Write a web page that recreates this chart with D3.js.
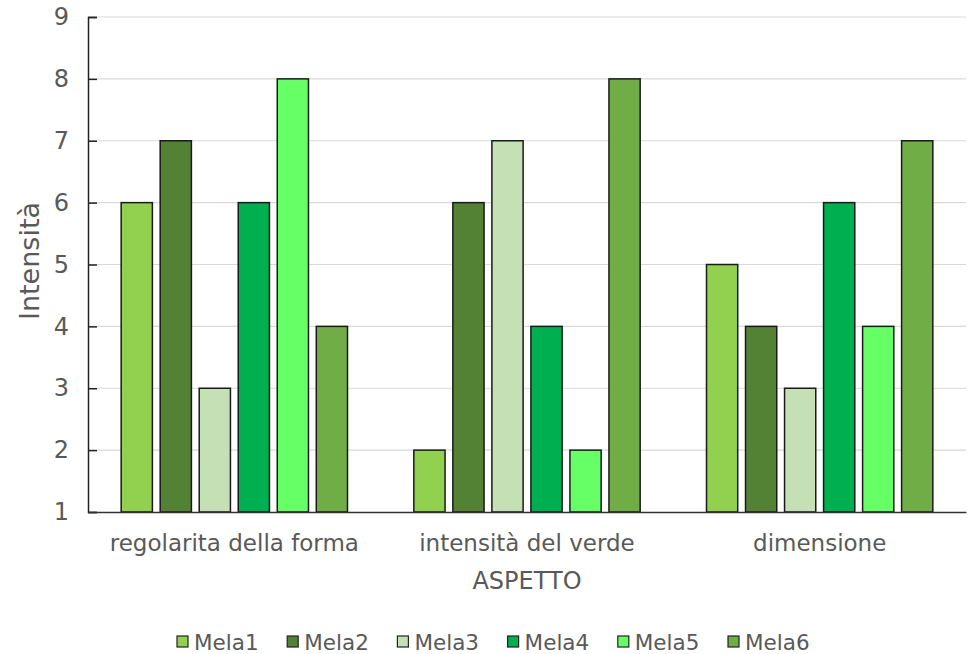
<!DOCTYPE html>
<html>
<head>
<meta charset="utf-8">
<script src="https://cdn.jsdelivr.net/npm/d3@7"></script>
<style>
  html, body { margin: 0; padding: 0; background: #fff; }
  svg text { font-family: "DejaVu Sans", Verdana, sans-serif; fill: #595959; }
</style>
</head>
<body>
<svg id="chart" width="972" height="654"></svg>
<script>
// Categories (x groups), series names and their values
const categories = ["regolarita della forma", "intensità del verde", "dimensione"];
const seriesNames = ["Mela1", "Mela2", "Mela3", "Mela4", "Mela5", "Mela6"];
const mela1 = [6, 2, 5];
const mela2 = [7, 6, 4];
const mela3 = [3, 7, 3];
const mela4 = [6, 4, 6];
const mela5 = [8, 2, 4];
const mela6 = [4, 8, 7];
const yTicks = [1, 2, 3, 4, 5, 6, 7, 8, 9];
const seriesColors = ["#92d050", "#548235", "#c5e0b4", "#00b050", "#66ff66", "#70ad47"];

const seriesValues = [mela1, mela2, mela3, mela4, mela5, mela6];

const svg = d3.select("#chart");
const margin = { left: 88, right: 6, top: 17, bottom: 142 };
const W = 972, H = 654;
const x0 = margin.left, x1 = W - margin.right;
const yTop = margin.top, yBot = H - margin.bottom;

const xGroup = d3.scaleBand().domain(categories).range([x0, x1]).paddingInner(0).paddingOuter(0);
const xSeries = d3.scaleBand().domain(seriesNames).range([0, xGroup.bandwidth()])
  .paddingInner(0.2).paddingOuter(0.85);
const y = d3.scaleLinear().domain([1, 9]).range([yBot, yTop]);

// Horizontal gridlines
svg.append("g")
  .selectAll("line")
  .data(yTicks.filter(t => t > 1))
  .join("line")
  .attr("x1", x0).attr("x2", x1)
  .attr("y1", d => y(d)).attr("y2", d => y(d))
  .attr("stroke", "#d9d9d9").attr("stroke-width", 1.2);

// Bars
const groups = svg.append("g")
  .selectAll("g")
  .data(categories)
  .join("g")
  .attr("transform", d => `translate(${xGroup(d)},0)`);

groups.selectAll("rect")
  .data((c, ci) => seriesNames.map((s, si) => ({ s, si, v: seriesValues[si][ci] })))
  .join("rect")
  .attr("x", d => xSeries(d.s))
  .attr("width", xSeries.bandwidth())
  .attr("y", d => y(d.v))
  .attr("height", d => y(1) - y(d.v))
  .attr("fill", d => seriesColors[d.si])
  .attr("stroke", "#1a1a1a")
  .attr("stroke-width", 1.5);

// Y axis with inward ticks
const yAxis = svg.append("g")
  .attr("transform", `translate(${x0},0)`)
  .call(d3.axisLeft(y).tickValues(yTicks).tickSize(-9).tickPadding(19).tickFormat(d3.format("d")));
yAxis.select(".domain").attr("stroke", "#222").attr("stroke-width", 1.5);
yAxis.selectAll(".tick line").attr("stroke", "#222").attr("stroke-width", 1.5);
yAxis.selectAll(".tick text").attr("font-size", 24).style("font-family", "DejaVu Sans").attr("fill", "#595959");

// X axis
const xAxis = svg.append("g")
  .attr("transform", `translate(0,${yBot})`)
  .call(d3.axisBottom(xGroup).tickSize(0).tickPadding(23));
xAxis.select(".domain").attr("stroke", "#333").attr("stroke-width", 1.5);
xAxis.selectAll(".tick text").attr("font-size", 23).style("font-family", "DejaVu Sans").attr("fill", "#595959");

// Axis titles
svg.append("text")
  .attr("x", (x0 + x1) / 2).attr("y", 589)
  .attr("text-anchor", "middle")
  .attr("font-size", 24)
  .text("ASPETTO");

svg.append("text")
  .attr("transform", `translate(39,261) rotate(-90)`)
  .attr("text-anchor", "middle")
  .attr("font-size", 27)
  .text("Intensità");

// Legend
const legendStep = 110.2;
const legendX = 177;
const legend = svg.append("g").attr("transform", `translate(${legendX},642)`);
const items = legend.selectAll("g")
  .data(seriesNames)
  .join("g")
  .attr("transform", (d, i) => `translate(${i * legendStep},0)`);
items.append("rect")
  .attr("x", 0).attr("y", -6).attr("width", 11).attr("height", 11)
  .attr("fill", (d, i) => seriesColors[i])
  .attr("stroke", "#222").attr("stroke-width", 1.2);
items.append("text")
  .attr("x", 17).attr("y", 0)
  .attr("dominant-baseline", "central")
  .attr("font-size", 21.5)
  .text(d => d);
</script>
</body>
</html>
